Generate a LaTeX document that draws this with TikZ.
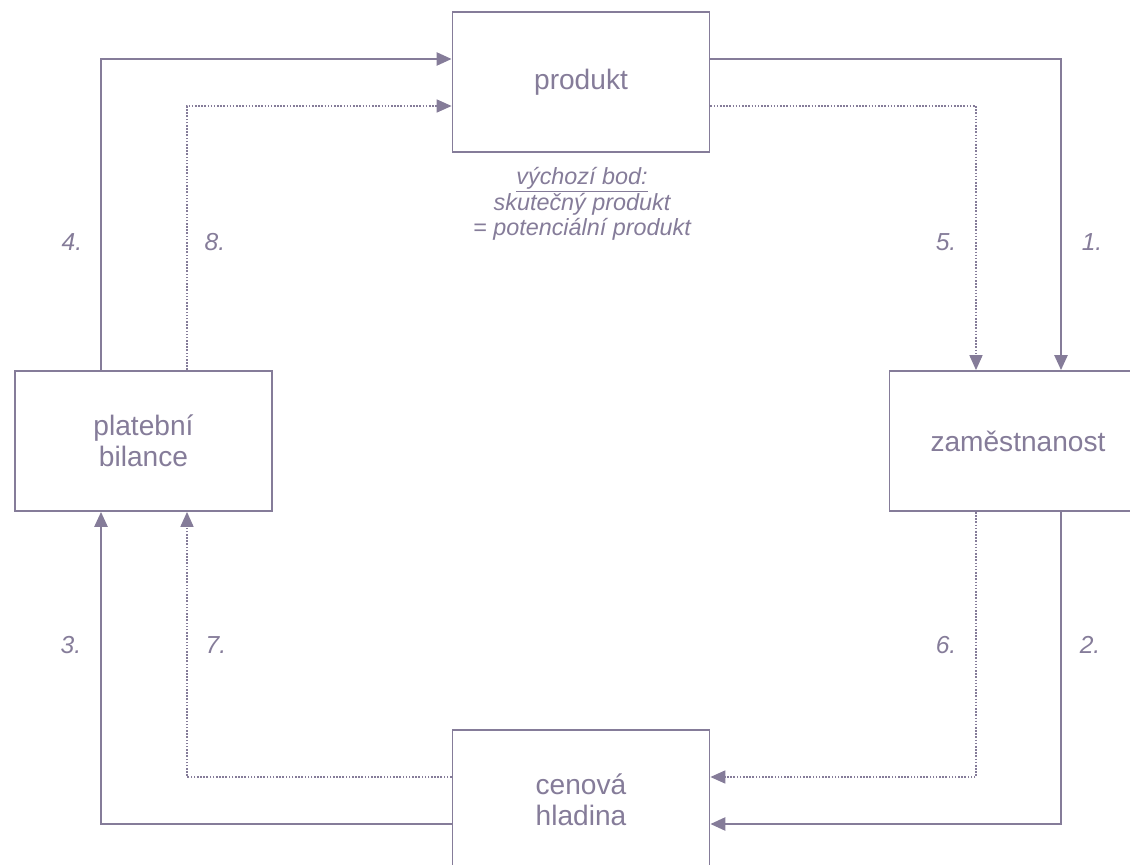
\documentclass[tikz,border=0pt]{standalone}
\usepackage{fontspec}
\setmainfont{Liberation Sans}
\usepackage{xcolor}
\usetikzlibrary{shapes, arrows, arrows.meta, positioning, calc}
\definecolor{flowcol}{HTML}{857C99}
\tikzset{
  block/.style={draw=flowcol, line width=1.1pt, fill=white, minimum width=5.14cm, minimum height=2.8cm, align=center, text=flowcol, font=\fontsize{16}{17.5}\selectfont},
  solidflow/.style={draw=flowcol, line width=1.1pt, -{Triangle[length=8.5pt,width=7.5pt]}},
  dotflow/.style={draw=flowcol, line width=0.6pt, dash pattern=on 0.9pt off 0.9pt, -{Triangle[length=8.5pt,width=7.5pt]}},
  steplabel/.style={text=flowcol, font=\fontsize{14}{15}\selectfont\itshape}
}
\begin{document}
\begin{tikzpicture}[x=0.02cm, y=-0.02cm]
      \useasboundingbox (0,0) rectangle (1130,865);
      \clip (0,0) rectangle (1130,865);

      \node[block] (prod) at (581,82) {produkt};
      \node[block] (zam) at (1018,441) {zaměstnanost};
      \node[block] (cen) at (581,800) {cenová\\hladina};
      \node[block] (plat) at (143.5,441) {platební\\bilance};

      \node[text=flowcol, align=center, font=\fontsize{13.3}{14.6}\selectfont\itshape] (start) at (582,204)
        {\underline{výchozí bod:}\\skutečný produkt\\= potenciální produkt};

      \coordinate (topS) at (0,59);
      \coordinate (topD) at (0,106);
      \coordinate (botD) at (0,777);
      \coordinate (botS) at (0,824);
      \coordinate (rS) at (1061,0);
      \coordinate (rD) at (976,0);
      \coordinate (lS) at (101,0);
      \coordinate (lD) at (187,0);

      \draw[solidflow] (prod.east |- topS) -| (zam.north -| rS);
      \draw[dotflow] (prod.east |- topD) -| (zam.north -| rD);
      \draw[solidflow] (zam.south -| rS) |- (cen.east |- botS);
      \draw[dotflow] (zam.south -| rD) |- (cen.east |- botD);
      \draw[solidflow] (cen.west |- botS) -| (plat.south -| lS);
      \draw[dotflow] (cen.west |- botD) -| (plat.south -| lD);
      \draw[solidflow] (plat.north -| lS) |- (prod.west |- topS);
      \draw[dotflow] (plat.north -| lD) |- (prod.west |- topD);

      \node[steplabel] (n1) at (1092,242) {1.};
      \node[steplabel] (n2) at (1090,645) {2.};
      \node[steplabel] (n3) at (71,645) {3.};
      \node[steplabel] (n4) at (72,242) {4.};
      \node[steplabel] (n5) at (946,242) {5.};
      \node[steplabel] (n6) at (946,645) {6.};
      \node[steplabel] (n7) at (216,645) {7.};
      \node[steplabel] (n8) at (215,242) {8.};
    \end{tikzpicture}
\end{document}
